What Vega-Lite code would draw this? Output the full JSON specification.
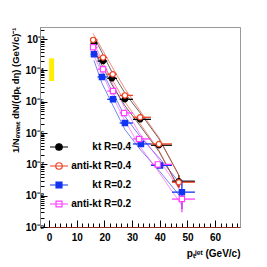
{
  "$schema": "https://vega.github.io/schema/vega-lite/v6.json",
  "width": 200,
  "height": 200,
  "autosize": "none",
  "padding": {"left": 40, "top": 27, "right": 27, "bottom": 40},
  "background": "white",
  "config": {
    "view": {"stroke": "#999999", "strokeWidth": 1},
    "font": "Liberation Sans",
    "axis": {"labelFont": "Liberation Sans", "titleFont": "Liberation Sans", "labelFontWeight": "bold", "titleFontWeight": "bold", "labelColor": "#000", "titleColor": "#000", "grid": false, "labelOverlap": false, "labelFlush": false, "labelBound": false, "tickColor": "#000"},
    "axisX": {"domainColor": "#903020", "labelFontSize": 10, "labelPadding": 12, "titleFontSize": 10, "titlePadding": 3},
    "axisY": {"domainColor": "#888888", "labelFontSize": 10, "labelPadding": 3, "titleAnchor": "end", "titleFontSize": 9.5, "titlePadding": 4}
  },
  "datasets": {
    "spectra": [
      {"s": "kt R=0.4", "x": 16.2, "xlo": 15, "xhi": 17.5, "y": 7.4e-4, "ylo": 7.0e-4, "yhi": 7.8e-4, "hi": 1.18e-3, "lo": 4.6e-4},
      {"s": "kt R=0.4", "x": 19.5, "xlo": 17.5, "xhi": 21, "y": 2.0e-4, "ylo": 1.9e-4, "yhi": 2.1e-4, "hi": 3.2e-4, "lo": 1.25e-4},
      {"s": "kt R=0.4", "x": 22.7, "xlo": 21, "xhi": 24.5, "y": 5.6e-5, "ylo": 5.3e-5, "yhi": 5.9e-5, "hi": 9.0e-5, "lo": 3.5e-5},
      {"s": "kt R=0.4", "x": 27.4, "xlo": 25.5, "xhi": 30.3, "y": 1.2e-5, "ylo": 1.12e-5, "yhi": 1.28e-5, "hi": 1.9e-5, "lo": 7.5e-6},
      {"s": "kt R=0.4", "x": 32.9, "xlo": 30.3, "xhi": 36.8, "y": 2.75e-6, "ylo": 2.5e-6, "yhi": 3.0e-6, "hi": 4.4e-6, "lo": 1.7e-6},
      {"s": "kt R=0.4", "x": 39.7, "xlo": 36.8, "xhi": 44.4, "y": 4.1e-7, "ylo": 3.6e-7, "yhi": 4.7e-7, "hi": 6.6e-7, "lo": 2.6e-7},
      {"s": "kt R=0.4", "x": 46.9, "xlo": 44.4, "xhi": 52.7, "y": 2.9e-8, "ylo": 1.9e-8, "yhi": 4.5e-8, "hi": 4.6e-8, "lo": 1.8e-8},
      {"s": "anti-kt R=0.4", "x": 15.9, "xlo": 15, "xhi": 17.5, "y": 9.5e-4, "ylo": 9.0e-4, "yhi": 1.0e-3, "hi": 1.52e-3, "lo": 5.9e-4},
      {"s": "anti-kt R=0.4", "x": 19.5, "xlo": 17.5, "xhi": 21, "y": 2.6e-4, "ylo": 2.45e-4, "yhi": 2.75e-4, "hi": 4.2e-4, "lo": 1.6e-4},
      {"s": "anti-kt R=0.4", "x": 23.0, "xlo": 21, "xhi": 24.5, "y": 7.6e-5, "ylo": 7.2e-5, "yhi": 8.0e-5, "hi": 1.2e-4, "lo": 4.75e-5},
      {"s": "anti-kt R=0.4", "x": 27.4, "xlo": 25.5, "xhi": 30.3, "y": 1.6e-5, "ylo": 1.5e-5, "yhi": 1.7e-5, "hi": 2.6e-5, "lo": 1.0e-5},
      {"s": "anti-kt R=0.4", "x": 32.9, "xlo": 30.3, "xhi": 36.8, "y": 3.2e-6, "ylo": 2.95e-6, "yhi": 3.45e-6, "hi": 5.1e-6, "lo": 2.0e-6},
      {"s": "anti-kt R=0.4", "x": 39.7, "xlo": 36.8, "xhi": 44.4, "y": 4.5e-7, "ylo": 4.0e-7, "yhi": 5.1e-7, "hi": 7.2e-7, "lo": 2.8e-7},
      {"s": "anti-kt R=0.4", "x": 46.9, "xlo": 44.4, "xhi": 52.7, "y": 2.7e-8, "ylo": 1.8e-8, "yhi": 4.2e-8, "hi": 4.3e-8, "lo": 1.7e-8},
      {"s": "kt R=0.2", "x": 16.2, "xlo": 15, "xhi": 17.5, "y": 3.3e-4, "ylo": 3.1e-4, "yhi": 3.5e-4, "hi": 5.3e-4, "lo": 2.1e-4},
      {"s": "kt R=0.2", "x": 19.1, "xlo": 17.5, "xhi": 21, "y": 6.2e-5, "ylo": 5.9e-5, "yhi": 6.5e-5, "hi": 9.9e-5, "lo": 3.9e-5},
      {"s": "kt R=0.2", "x": 23.1, "xlo": 21, "xhi": 24.5, "y": 1.2e-5, "ylo": 1.13e-5, "yhi": 1.27e-5, "hi": 1.9e-5, "lo": 7.5e-6},
      {"s": "kt R=0.2", "x": 27.4, "xlo": 25.5, "xhi": 30.3, "y": 2.1e-6, "ylo": 1.95e-6, "yhi": 2.25e-6, "hi": 3.4e-6, "lo": 1.3e-6},
      {"s": "kt R=0.2", "x": 33.2, "xlo": 30.3, "xhi": 36.8, "y": 4.5e-7, "ylo": 4.1e-7, "yhi": 4.9e-7, "hi": 7.2e-7, "lo": 2.8e-7},
      {"s": "kt R=0.2", "x": 40.1, "xlo": 36.8, "xhi": 44.4, "y": 9.3e-8, "ylo": 8.0e-8, "yhi": 1.08e-7, "hi": 1.5e-7, "lo": 5.8e-8},
      {"s": "kt R=0.2", "x": 48.0, "xlo": 44.4, "xhi": 52.7, "y": 1.3e-8, "ylo": 3.7e-9, "yhi": 3.2e-8, "hi": 2.1e-8, "lo": 8.1e-9},
      {"s": "anti-kt R=0.2", "x": 15.9, "xlo": 15, "xhi": 17.5, "y": 5.5e-4, "ylo": 5.2e-4, "yhi": 5.8e-4, "hi": 8.8e-4, "lo": 3.4e-4},
      {"s": "anti-kt R=0.2", "x": 19.5, "xlo": 17.5, "xhi": 21, "y": 1.1e-4, "ylo": 1.04e-4, "yhi": 1.16e-4, "hi": 1.76e-4, "lo": 6.9e-5},
      {"s": "anti-kt R=0.2", "x": 23.1, "xlo": 21, "xhi": 24.5, "y": 2.2e-5, "ylo": 2.07e-5, "yhi": 2.33e-5, "hi": 3.5e-5, "lo": 1.4e-5},
      {"s": "anti-kt R=0.2", "x": 27.1, "xlo": 25.5, "xhi": 30.3, "y": 4.4e-6, "ylo": 4.1e-6, "yhi": 4.7e-6, "hi": 7.0e-6, "lo": 2.75e-6},
      {"s": "anti-kt R=0.2", "x": 32.5, "xlo": 30.3, "xhi": 36.8, "y": 6.5e-7, "ylo": 5.9e-7, "yhi": 7.1e-7, "hi": 1.04e-6, "lo": 4.1e-7},
      {"s": "anti-kt R=0.2", "x": 39.3, "xlo": 36.8, "xhi": 44.4, "y": 1.0e-7, "ylo": 8.5e-8, "yhi": 1.2e-7, "hi": 1.6e-7, "lo": 6.3e-8},
      {"s": "anti-kt R=0.2", "x": 48.0, "xlo": 44.4, "xhi": 52.7, "y": 7.8e-9, "ylo": 2.95e-9, "yhi": 1.5e-8, "hi": 1.25e-8, "lo": 4.9e-9}
    ],
    "norm": [{"x": 0, "x2": 1.8, "y": 2.45e-4, "y2": 4.6e-5}]
  },
  "layer": [
    {
      "data": {"name": "spectra"},
      "transform": [{"filter": "false"}],
      "mark": {"type": "point", "strokeWidth": 1.2, "opacity": 1},
      "encoding": {
        "x": {"field": "x", "type": "quantitative",
          "scale": {"domain": [-3.3, 69], "nice": false, "zero": false},
          "axis": {
            "values": [-2,0,2,4,6,8,10,12,14,16,18,20,22,24,26,28,30,32,34,36,38,40,42,44,46,48,50,52,54,56,58,60,62,64,66,68],
            "tickCount": 100,
            "labelExpr": "datum.value % 10 == 0 ? '' + datum.value : ''",
            "tickSize": {"condition": {"test": "datum.value % 10 == 0", "value": -7}, "value": -4},
            "title": "pₜʲᵉᵗ (GeV/c)   ",
            "titleAnchor": "end"
          }
        },
        "y": {"field": "y", "type": "quantitative",
          "scale": {"type": "log", "domain": [1e-9, 2.45e-3], "nice": false},
          "axis": {
            "values": [1e-9,2e-9,3e-9,4e-9,5e-9,6e-9,7e-9,8e-9,9e-9,1e-8,2e-8,3e-8,4e-8,5e-8,6e-8,7e-8,8e-8,9e-8,1e-7,2e-7,3e-7,4e-7,5e-7,6e-7,7e-7,8e-7,9e-7,1e-6,2e-6,3e-6,4e-6,5e-6,6e-6,7e-6,8e-6,9e-6,1e-5,2e-5,3e-5,4e-5,5e-5,6e-5,7e-5,8e-5,9e-5,1e-4,2e-4,3e-4,4e-4,5e-4,6e-4,7e-4,8e-4,9e-4,1e-3,2e-3],
            "tickCount": 100,
            "labelExpr": "abs(log(datum.value)/LN10 - round(log(datum.value)/LN10)) < 0.001 ? '10' + ['⁰','⁻¹','⁻²','⁻³','⁻⁴','⁻⁵','⁻⁶','⁻⁷','⁻⁸','⁻⁹'][-round(log(datum.value)/LN10)] : ''",
            "tickSize": {"condition": {"test": "abs(log(datum.value)/LN10 - round(log(datum.value)/LN10)) < 0.001", "value": -7}, "value": -4},
            "title": "1/Nₑᵥₑₙₜ dN/(dpₜ dη) (GeV/c)⁻¹"
          }
        },
        "color": {"field": "s", "type": "nominal",
          "scale": {"domain": ["kt R=0.4", "anti-kt R=0.4", "kt R=0.2", "anti-kt R=0.2"], "range": ["#000000", "#f04020", "#1034f0", "#ff40ff"]},
          "legend": {
            "orient": "none", "legendX": 9, "legendY": 110, "title": null,
            "labelAlign": "right", "labelOffset": 62, "labelFontSize": 10, "labelFontWeight": "bold",
            "labelFont": "Liberation Sans", "labelColor": "#000", "labelLimit": 200,
            "rowPadding": 3, "symbolSize": 324, "symbolStrokeWidth": 1.2
          }
        },
        "fill": {"field": "s", "type": "nominal",
          "scale": {"domain": ["kt R=0.4", "anti-kt R=0.4", "kt R=0.2", "anti-kt R=0.2"], "range": ["#000000", "#ffffff", "#1034f0", "#ffffff"]}},
        "shape": {"field": "s", "type": "nominal",
          "scale": {"domain": ["kt R=0.4", "anti-kt R=0.4", "kt R=0.2", "anti-kt R=0.2"], "range": [
            "M-1,0L1,0M0.36,0A0.36,0.36,0,1,1,-0.36,0A0.36,0.36,0,1,1,0.36,0Z",
            "M-1,0L1,0M0.36,0A0.36,0.36,0,1,1,-0.36,0A0.36,0.36,0,1,1,0.36,0Z",
            "M-1,0L1,0M-0.33,-0.33L0.33,-0.33L0.33,0.33L-0.33,0.33Z",
            "M-1,0L1,0M-0.33,-0.33L0.33,-0.33L0.33,0.33L-0.33,0.33Z"]}}
      }
    },
    {
      "data": {"name": "norm"},
      "mark": {"type": "rect", "color": "#ffee00"},
      "encoding": {
        "x": {"field": "x", "type": "quantitative"},
        "x2": {"field": "x2"},
        "y": {"field": "y", "type": "quantitative"},
        "y2": {"field": "y2"}
      }
    },
    {
      "data": {"name": "spectra"},
      "mark": {"type": "line", "strokeWidth": 0.8, "opacity": 0.75},
      "encoding": {
        "x": {"field": "x", "type": "quantitative"},
        "y": {"field": "hi", "type": "quantitative"},
        "color": {"field": "s", "type": "nominal"},
        "detail": {"field": "s"}
      }
    },
    {
      "data": {"name": "spectra"},
      "mark": {"type": "line", "strokeWidth": 0.8, "opacity": 0.75},
      "encoding": {
        "x": {"field": "x", "type": "quantitative"},
        "y": {"field": "lo", "type": "quantitative"},
        "color": {"field": "s", "type": "nominal"},
        "detail": {"field": "s"}
      }
    },
    {
      "data": {"name": "spectra"},
      "mark": {"type": "rule", "strokeWidth": 1.3},
      "encoding": {
        "x": {"field": "xlo", "type": "quantitative"},
        "x2": {"field": "xhi"},
        "y": {"field": "y", "type": "quantitative"},
        "color": {"field": "s", "type": "nominal"}
      }
    },
    {
      "data": {"name": "spectra"},
      "mark": {"type": "rule", "strokeWidth": 1.3},
      "encoding": {
        "x": {"field": "x", "type": "quantitative"},
        "y": {"field": "ylo", "type": "quantitative"},
        "y2": {"field": "yhi"},
        "color": {"field": "s", "type": "nominal"}
      }
    },
    {
      "data": {"name": "spectra"},
      "mark": {"type": "point", "strokeWidth": 1.2, "size": 28, "opacity": 1},
      "encoding": {
        "x": {"field": "x", "type": "quantitative"},
        "y": {"field": "y", "type": "quantitative"},
        "color": {"field": "s", "type": "nominal"},
        "fill": {"condition": [
          {"test": "datum.s == 'kt R=0.4'", "value": "#000000"},
          {"test": "datum.s == 'kt R=0.2'", "value": "#1034f0"}], "value": "#ffffff"},
        "shape": {"condition": {"test": "datum.s == 'kt R=0.2' || datum.s == 'anti-kt R=0.2'", "value": "square"}, "value": "circle"}
      }
    },
    {
      "mark": {"type": "text", "align": "right", "baseline": "middle", "fontWeight": "bold", "fontSize": 11.5, "font": "Liberation Sans", "color": "#000"},
      "encoding": {"x": {"datum": 68.6}, "y": {"datum": 1.15e-3}, "text": {"value": "Au+Au at √sₙₙ=200 GeV/c"}}
    },
    {
      "mark": {"type": "text", "align": "right", "baseline": "middle", "fontWeight": "bold", "fontSize": 9, "font": "Liberation Sans", "color": "#000"},
      "encoding": {"x": {"datum": 67.1}, "y": {"datum": 2.6e-4}, "text": {"value": "10% most central events"}}
    },
    {
      "mark": {"type": "text", "align": "right", "baseline": "middle", "fontWeight": "bold", "fontSize": 11.5, "font": "Liberation Sans", "color": "#ff2200"},
      "encoding": {"x": {"datum": 66.4}, "y": {"datum": 4.3e-5}, "text": {"value": "STAR Preliminary"}}
    }
  ]
}
